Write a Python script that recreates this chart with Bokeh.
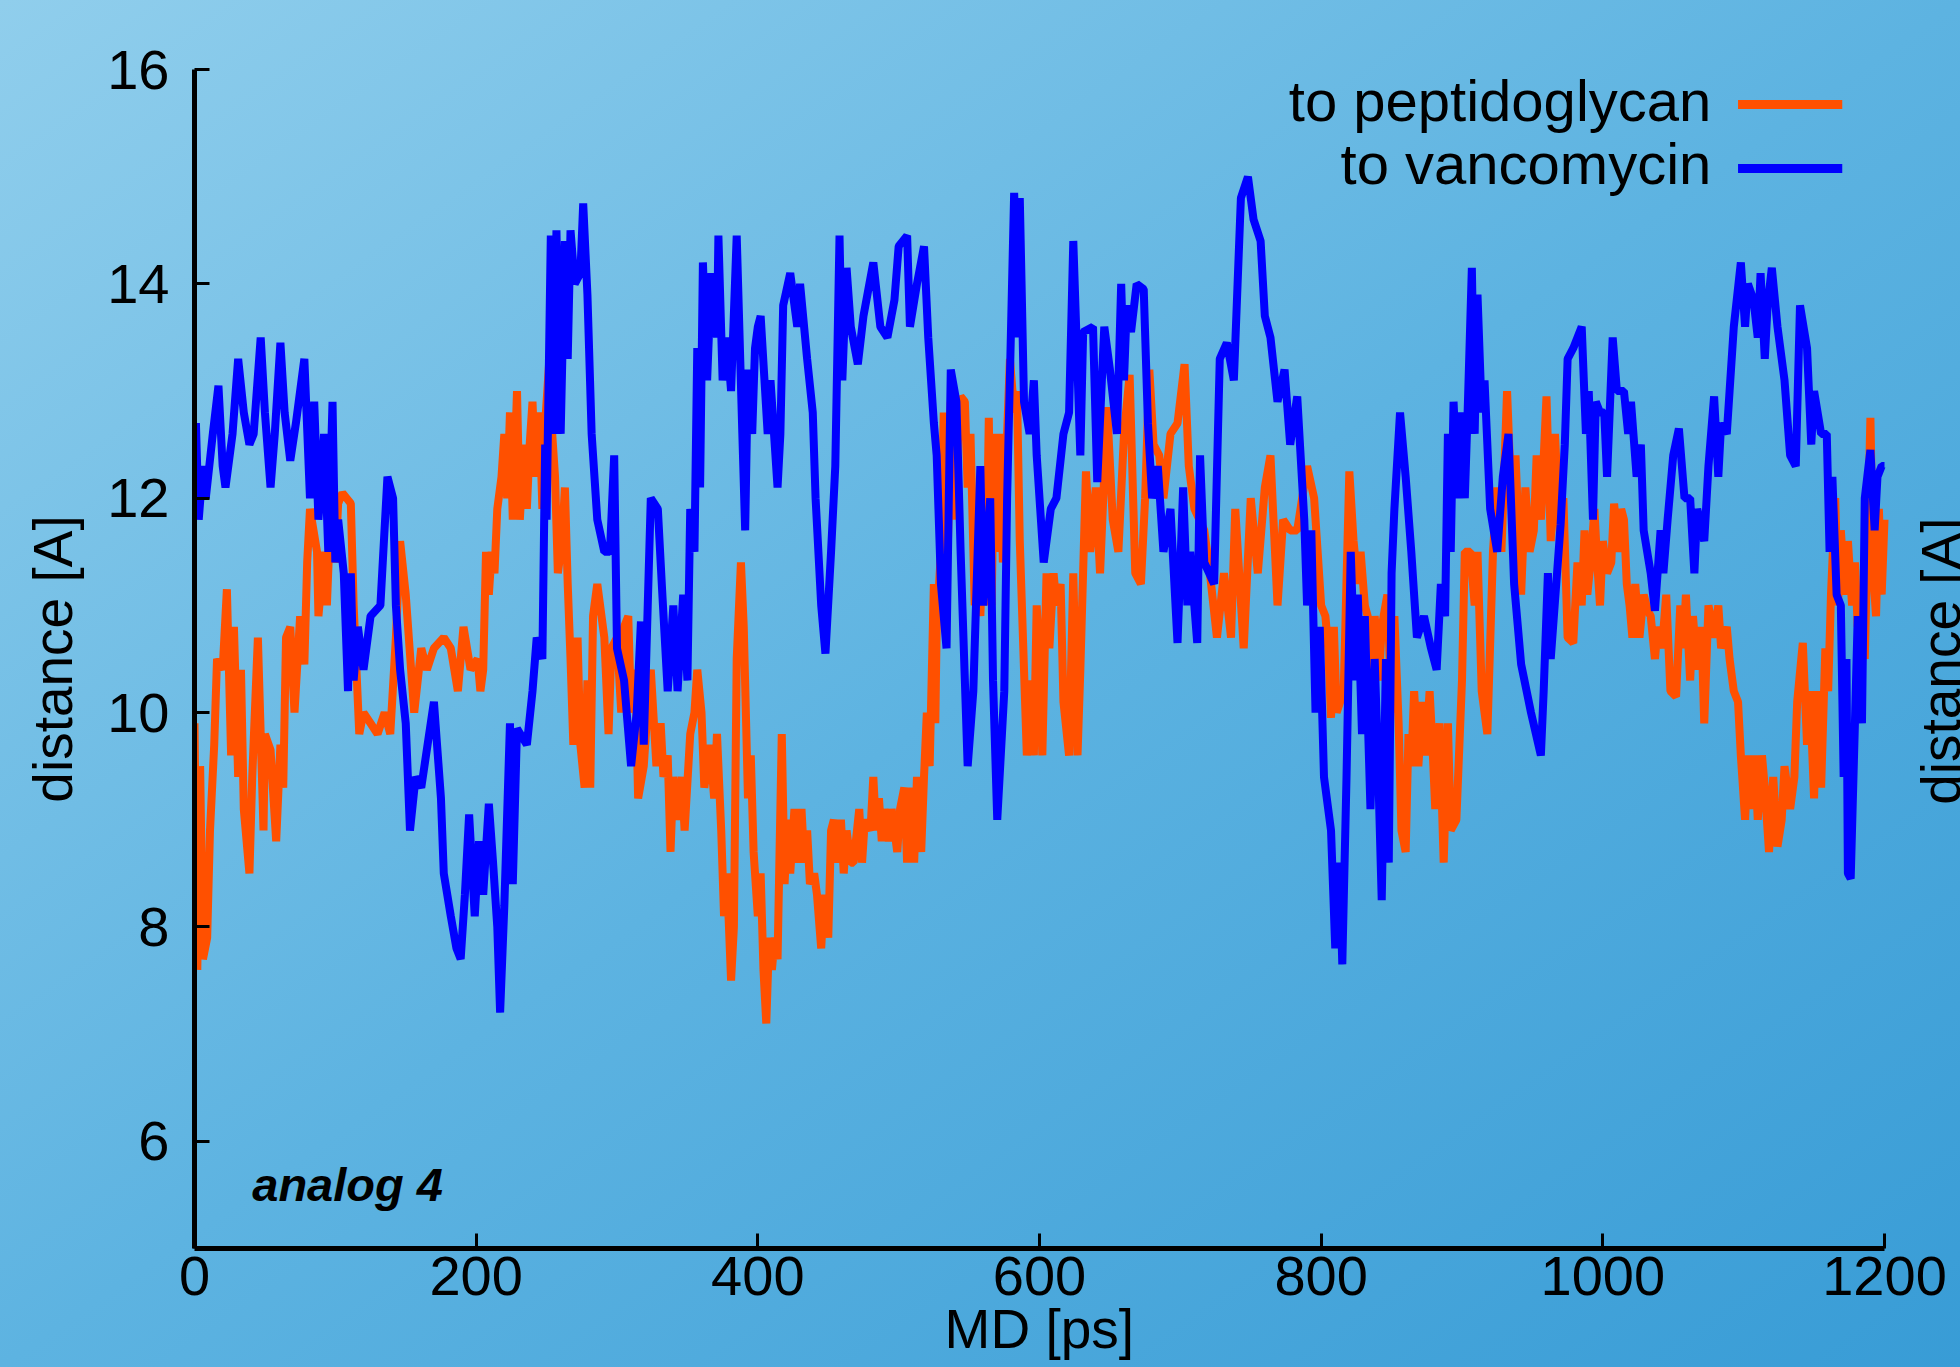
import math
from bokeh.plotting import figure
from bokeh.models import Range1d, FixedTicker, Label
from bokeh.embed import file_html
from bokeh.resources import INLINE

# ---- data: (MD time [ps], distance [A]) ----
peptidoglycan = [
    (0, 9.9), (2, 7.6), (4, 9.5), (6, 7.7), (9, 7.9), (11, 8.9), (14, 9.7), (16, 10.5), (20, 10.4),
    (23, 11.15), (26, 9.6), (28, 10.8), (31, 9.4), (33, 10.4), (35, 9.1), (39, 8.5), (41, 9.4),
    (45, 10.7), (49, 8.9), (50, 9.8), (54, 9.65), (58, 8.8), (61, 9.7), (63, 9.3), (65, 10.7),
    (68, 10.8), (71, 10.0), (75, 10.9), (78, 10.45), (80, 11.4), (82, 11.9), (87, 11.5), (88, 10.9),
    (92, 11.5), (94, 11.0), (97, 12.0), (100, 11.4), (102, 11.95), (105, 12.05), (111, 11.95),
    (113, 11.0), (117, 9.8), (120, 10.0), (125, 9.9), (130, 9.8), (135, 10.0), (139, 9.8),
    (143, 10.7), (146, 11.6), (150, 11.1), (156, 10.0), (161, 10.6), (165, 10.4), (170, 10.6),
    (177, 10.7), (182, 10.6), (187, 10.2), (191, 10.8), (196, 10.4), (201, 10.5), (203, 10.2),
    (205, 10.4), (207, 11.5), (209, 11.1), (211, 11.5), (213, 11.3), (215, 11.9), (218, 12.2),
    (220, 12.6), (222, 12.0), (224, 12.8), (226, 11.8), (229, 13.0), (231, 11.8), (234, 12.5),
    (236, 11.9), (238, 12.5), (240, 12.9), (242, 12.2), (245, 12.8), (247, 11.9), (249, 12.7),
    (252, 13.3), (254, 12.6), (256, 12.2), (258, 11.3), (261, 11.6), (263, 12.1), (265, 11.2),
    (267, 10.5), (269, 9.7), (272, 10.7), (274, 9.7), (277, 9.3), (279, 10.3), (281, 9.3),
    (283, 10.9), (286, 11.2), (291, 10.7), (294, 9.8), (296, 10.6), (300, 10.7), (303, 10.0),
    (305, 10.8), (308, 10.9), (310, 10.0), (313, 10.4), (315, 9.2), (319, 9.5), (322, 10.1),
    (324, 10.4), (328, 9.5), (331, 9.9), (333, 9.4), (336, 9.6), (338, 8.7), (340, 9.4), (343, 9.0),
    (346, 9.4), (348, 8.9), (352, 9.8), (355, 10.0), (357, 10.4), (360, 10.0), (362, 9.3),
    (366, 9.7), (369, 9.2), (371, 9.8), (374, 8.9), (376, 8.1), (378, 8.5), (381, 7.5), (383, 8.0),
    (385, 10.5), (388, 11.4), (390, 10.8), (393, 9.2), (395, 9.6), (397, 8.7), (400, 8.1),
    (402, 8.5), (404, 7.6), (406, 7.1), (408, 7.9), (410, 7.6), (412, 7.9), (414, 7.7), (417, 9.8),
    (419, 8.4), (421, 9.0), (423, 8.5), (426, 9.1), (428, 8.6), (431, 9.1), (433, 8.6), (435, 8.9),
    (437, 8.4), (440, 8.5), (442, 8.3), (445, 7.8), (447, 8.3), (450, 7.9), (452, 8.9), (454, 9.0),
    (457, 8.6), (459, 9.0), (461, 8.5), (463, 8.9), (466, 8.6), (468, 8.6), (472, 9.1), (474, 8.6),
    (476, 9.0), (480, 8.9), (482, 9.4), (484, 8.9), (486, 9.2), (488, 8.8), (490, 9.1), (493, 8.8),
    (495, 9.1), (499, 8.7), (501, 9.1), (504, 9.3), (506, 8.6), (508, 9.3), (511, 8.6), (513, 9.4),
    (516, 8.7), (518, 9.4), (520, 10.0), (522, 9.5), (525, 11.2), (526, 9.9), (527, 10.8),
    (530, 11.5), (532, 12.8), (535, 11.6), (537, 12.9), (540, 11.8), (542, 12.5), (544, 12.95),
    (547, 12.9), (549, 12.1), (551, 12.6), (554, 11.0), (556, 11.9), (558, 10.9), (560, 11.6),
    (562, 11.0), (564, 12.75), (566, 11.0), (568, 12.6), (570, 11.5), (572, 12.6), (574, 11.4),
    (577, 12.6), (579, 13.3), (582, 12.8), (584, 13.0), (586, 11.6), (589, 10.4), (591, 9.6),
    (594, 10.3), (596, 9.6), (598, 11.0), (600, 10.5), (602, 9.6), (605, 11.3), (607, 10.6),
    (610, 11.3), (612, 11.0), (615, 11.2), (617, 10.1), (621, 9.6), (624, 11.3), (627, 9.6),
    (629, 10.4), (633, 12.25), (636, 11.5), (640, 12.1), (643, 11.3), (648, 12.85), (652, 11.8),
    (656, 11.5), (660, 12.6), (664, 13.15), (668, 11.3), (672, 11.2), (675, 12.0), (678, 13.2),
    (681, 12.5), (685, 12.4), (688, 12.0), (693, 12.6), (698, 12.7), (703, 13.25), (706, 12.3),
    (710, 11.9), (717, 11.7), (721, 11.3), (726, 10.7), (731, 11.3), (736, 10.7), (739, 11.9),
    (745, 10.6), (750, 12.0), (755, 11.3), (760, 12.1), (764, 12.4), (769, 11.0), (773, 11.8),
    (778, 11.7), (783, 11.7), (790, 12.3), (795, 12.0), (800, 11.0), (803, 10.9), (805, 10.6),
    (807, 9.95), (809, 10.8), (811, 10.0), (816, 10.2), (820, 12.25), (823, 11.6), (826, 11.2),
    (828, 11.5), (831, 11.0), (833, 10.9), (836, 10.4), (838, 10.9), (841, 10.3), (843, 10.8),
    (847, 11.1), (850, 10.0), (852, 10.9), (855, 9.9), (857, 8.9), (860, 8.7), (862, 9.8),
    (864, 9.5), (866, 10.2), (869, 9.5), (872, 10.1), (874, 9.6), (877, 10.2), (879, 9.7),
    (881, 9.1), (884, 9.9), (887, 8.6), (890, 9.9), (892, 8.9), (896, 9.0), (900, 10.3),
    (902, 11.5), (906, 11.5), (909, 11.0), (911, 11.5), (914, 10.2), (918, 9.8), (922, 11.5),
    (925, 12.1), (928, 11.5), (932, 13.0), (935, 12.0), (938, 12.4), (942, 11.1), (945, 12.1),
    (948, 11.5), (951, 11.7), (953, 12.4), (956, 11.8), (960, 12.95), (963, 11.6), (966, 12.6),
    (970, 11.5), (972, 12.0), (975, 10.7), (979, 10.65), (982, 11.4), (985, 11.0), (987, 11.7),
    (989, 11.1), (992, 11.5), (994, 11.9), (996, 11.4), (998, 11.0), (1000, 11.6), (1003, 11.3),
    (1006, 11.4), (1008, 11.95), (1011, 11.5), (1013, 11.9), (1015, 11.8), (1017, 11.2),
    (1019, 11.0), (1021, 10.7), (1023, 11.2), (1026, 10.7), (1029, 11.1), (1032, 10.95),
    (1034, 10.9), (1037, 10.5), (1039, 10.8), (1042, 10.6), (1045, 11.1), (1048, 10.2),
    (1052, 10.15), (1055, 11.0), (1057, 10.6), (1059, 11.1), (1062, 10.3), (1064, 10.9),
    (1067, 10.4), (1070, 10.8), (1072, 9.9), (1075, 11.0), (1079, 10.7), (1082, 11.0),
    (1084, 10.6), (1088, 10.8), (1090, 10.5), (1093, 10.2), (1096, 10.1), (1098, 9.6), (1101, 9.0),
    (1103, 9.6), (1105, 9.1), (1108, 9.6), (1110, 9.0), (1113, 9.6), (1115, 9.3), (1118, 8.7),
    (1121, 9.4), (1124, 8.75), (1127, 9.0), (1129, 9.5), (1133, 9.1), (1136, 9.4), (1138, 10.1),
    (1142, 10.65), (1145, 9.7), (1147, 10.2), (1150, 9.2), (1152, 10.2), (1155, 9.3), (1158, 10.6),
    (1160, 10.2), (1162, 11.1), (1165, 12.0), (1167, 11.0), (1169, 11.7), (1172, 11.1),
    (1174, 11.6), (1177, 11.0), (1179, 11.4), (1181, 10.8), (1184, 11.0), (1186, 10.5),
    (1190, 12.75), (1192, 11.3), (1194, 10.9), (1196, 11.9), (1198, 11.1), (1200, 11.8),
]

vancomycin = [
    (0, 11.9), (1, 12.7), (3, 11.8), (6, 12.3), (8, 12.0), (13, 12.6), (17, 13.05), (20, 12.3),
    (22, 12.1), (27, 12.6), (31, 13.3), (35, 12.8), (39, 12.5), (42, 12.6), (47, 13.5), (50, 12.8),
    (54, 12.1), (57, 12.6), (61, 13.45), (64, 12.8), (68, 12.35), (72, 12.7), (78, 13.3),
    (82, 12.0), (85, 12.9), (88, 11.8), (92, 12.6), (95, 11.5), (98, 12.9), (100, 11.4),
    (102, 11.8), (106, 11.3), (109, 10.2), (111, 11.3), (113, 10.3), (116, 10.8), (120, 10.4),
    (125, 10.9), (132, 11.0), (137, 12.2), (141, 12.0), (143, 11.0), (146, 10.4), (150, 9.9),
    (153, 8.9), (157, 9.4), (161, 9.3), (170, 10.1), (175, 9.2), (177, 8.5), (182, 8.1),
    (186, 7.8), (189, 7.7), (192, 8.3), (195, 9.05), (199, 8.1), (202, 8.8), (205, 8.3),
    (209, 9.15), (212, 8.6), (215, 8.0), (217, 7.2), (220, 8.2), (224, 9.9), (226, 8.4),
    (229, 9.85), (236, 9.7), (240, 10.2), (243, 10.7), (247, 10.5), (249, 12.5), (250, 11.8),
    (253, 14.45), (255, 12.6), (257, 14.5), (260, 12.6), (263, 14.4), (265, 13.3), (267, 14.5),
    (270, 14.0), (274, 14.1), (276, 14.75), (279, 13.9), (282, 12.6), (286, 11.8), (291, 11.5),
    (295, 11.5), (298, 12.4), (300, 10.6), (305, 10.3), (310, 9.5), (314, 10.0), (317, 10.85),
    (319, 9.7), (324, 12.0), (329, 11.9), (332, 11.15), (336, 10.2), (340, 11.0), (343, 10.2),
    (347, 11.1), (350, 10.3), (352, 11.9), (355, 11.5), (357, 13.4), (359, 12.1), (361, 14.2),
    (364, 13.1), (367, 14.1), (371, 13.5), (372, 14.45), (375, 13.1), (378, 13.5), (381, 13.0),
    (385, 14.45), (389, 12.6), (391, 11.7), (393, 13.2), (396, 12.6), (398, 13.4), (400, 13.6),
    (402, 13.7), (407, 12.6), (409, 13.1), (414, 12.1), (416, 12.6), (418, 13.8), (423, 14.1),
    (428, 13.6), (430, 14.0), (435, 13.3), (439, 12.8), (441, 12.0), (445, 11.0), (448, 10.55),
    (452, 11.5), (455, 12.3), (458, 14.45), (460, 13.1), (463, 14.15), (466, 13.6), (471, 13.25),
    (475, 13.7), (482, 14.2), (487, 13.6), (492, 13.5), (497, 13.85), (500, 14.35), (506, 14.45),
    (508, 13.6), (513, 14.0), (518, 14.35), (521, 13.5), (525, 12.7), (527, 12.4), (530, 11.2),
    (534, 10.6), (537, 13.2), (541, 12.9), (544, 11.5), (549, 9.5), (553, 10.2), (558, 12.3),
    (560, 11.0), (565, 12.0), (567, 10.3), (570, 9.0), (575, 10.2), (577, 12.0), (582, 14.85),
    (585, 13.5), (586, 14.8), (589, 12.9), (593, 12.6), (596, 13.1), (598, 12.4), (603, 11.4),
    (608, 11.9), (612, 12.0), (617, 12.6), (621, 12.8), (624, 14.4), (629, 12.4), (631, 13.55),
    (638, 13.6), (641, 12.15), (646, 13.6), (650, 13.2), (655, 12.6), (658, 14.0), (660, 13.1),
    (662, 13.8), (665, 13.55), (669, 14.0), (674, 13.95), (677, 12.7), (680, 12.0), (684, 12.3),
    (688, 11.5), (693, 11.9), (698, 10.65), (702, 12.1), (705, 11.0), (707, 11.5), (712, 10.65),
    (714, 12.4), (717, 11.4), (724, 11.2), (728, 13.3), (733, 13.45), (738, 13.1), (743, 14.8),
    (748, 15.0), (752, 14.6), (757, 14.4), (760, 13.7), (764, 13.5), (769, 12.9), (774, 13.2),
    (778, 12.5), (783, 12.95), (788, 11.8), (790, 11.0), (793, 11.7), (796, 10.0), (799, 10.8),
    (802, 9.4), (807, 8.9), (810, 7.8), (813, 8.6), (815, 7.65), (818, 9.4), (821, 11.5),
    (824, 10.3), (826, 11.1), (829, 9.8), (831, 10.9), (835, 9.1), (838, 10.5), (840, 9.7),
    (843, 8.25), (846, 10.5), (848, 8.6), (850, 11.3), (852, 11.9), (856, 12.8), (860, 12.2),
    (864, 11.5), (868, 10.7), (873, 10.9), (878, 10.6), (882, 10.4), (885, 11.2), (888, 10.9),
    (890, 12.6), (892, 11.5), (894, 12.9), (897, 12.0), (899, 12.8), (902, 12.0), (904, 12.8),
    (907, 14.15), (909, 12.6), (911, 13.9), (914, 12.8), (916, 13.1), (920, 11.9), (925, 11.5),
    (929, 12.2), (933, 12.6), (937, 11.2), (942, 10.45), (949, 10.0), (956, 9.6), (958, 10.2),
    (961, 11.3), (963, 10.5), (970, 11.75), (973, 12.5), (975, 13.3), (979, 13.4), (985, 13.6),
    (988, 12.6), (990, 13.0), (993, 11.8), (995, 12.9), (998, 12.8), (1001, 12.8), (1003, 12.2),
    (1007, 13.5), (1010, 13.0), (1015, 13.0), (1018, 12.6), (1020, 12.9), (1024, 12.2),
    (1027, 12.5), (1029, 11.7), (1034, 11.3), (1037, 10.95), (1041, 11.7), (1043, 11.3),
    (1046, 11.8), (1050, 12.4), (1054, 12.65), (1058, 12.0), (1062, 12.0), (1065, 11.3),
    (1067, 11.9), (1072, 11.6), (1075, 12.3), (1079, 12.95), (1082, 12.2), (1084, 12.7),
    (1088, 12.6), (1090, 13.0), (1093, 13.6), (1098, 14.2), (1101, 13.6), (1103, 14.0),
    (1107, 13.85), (1110, 13.5), (1112, 14.1), (1115, 13.3), (1117, 13.8), (1120, 14.15),
    (1124, 13.6), (1129, 13.1), (1133, 12.4), (1137, 12.3), (1140, 13.8), (1145, 13.4),
    (1148, 12.5), (1150, 13.0), (1155, 12.6), (1159, 12.6), (1161, 11.5), (1163, 12.2),
    (1166, 11.1), (1169, 11.0), (1171, 9.4), (1173, 10.5), (1174, 8.5), (1176, 8.45), (1179, 9.9),
    (1181, 10.9), (1184, 9.9), (1186, 12.0), (1190, 12.45), (1193, 11.7), (1195, 12.2),
    (1198, 12.3), (1200, 12.3),
]

pep_time = [t for t, _ in peptidoglycan]
pep_dist = [d for _, d in peptidoglycan]
van_time = [t for t, _ in vancomycin]
van_dist = [d for _, d in vancomycin]

x_ticks = [0, 200, 400, 600, 800, 1000, 1200]
y_ticks = [6, 8, 10, 12, 14, 16]
series_labels = ["to peptidoglycan", "to vancomycin"]
series_colors = ["#ff5000", "#0000ff"]

FONT = "Liberation Sans"

# the frame runs to the right page edge; the x axis itself stops at 1200 ps
X_VIEW_END = 1200 * (1960 - 194) / 1690

p = figure(width=1960, height=1367,
           x_range=Range1d(0, X_VIEW_END), y_range=Range1d(5, 16),
           output_backend="svg", toolbar_location=None,
           min_border_left=194, min_border_right=0,
           min_border_top=69, min_border_bottom=119)
p.background_fill_color = None
p.border_fill_color = None
p.outline_line_color = None
p.styles = {"background-image": "linear-gradient(to bottom right, #90ceec 0%, #5db3e1 50%, #389cd6 100%)"}
p.grid.visible = False

for ax in (p.xaxis[0], p.yaxis[0]):
    ax.axis_line_color = "black"
    ax.axis_line_width = 5
    ax.major_tick_in = 15
    ax.major_tick_out = 0
    ax.major_tick_line_width = 3
    ax.major_tick_line_color = "black"
    ax.minor_tick_line_color = None
    ax.major_label_text_font = FONT
    ax.major_label_text_font_size = "56px"
    ax.major_label_text_color = "black"
    ax.axis_label_text_font = FONT
    ax.axis_label_text_font_size = "55px"
    ax.axis_label_text_font_style = "normal"
    ax.axis_label_text_color = "black"

p.xaxis[0].ticker = FixedTicker(ticks=x_ticks)
p.xaxis[0].bounds = (0, 1200)
p.yaxis[0].ticker = FixedTicker(ticks=y_ticks)
# trailing no-break spaces keep the title centred under the 0-1200 span of the axis
p.xaxis[0].axis_label = "MD [ps]" + "\u00a0" * 5
p.yaxis[0].axis_label = "distance [A]"
p.xaxis[0].major_label_standoff = 8
p.xaxis[0].axis_label_standoff = 0
p.yaxis[0].major_label_standoff = 25
p.yaxis[0].axis_label_standoff = 20

p.line(pep_time, pep_dist, line_color=series_colors[0], line_width=8)
p.line(van_time, van_dist, line_color=series_colors[1], line_width=8)

# legend (text left of sample line)
legend_text_x = 1077
legend_line_x = (1096, 1170)
legend_rows = [(15.71, 15.674), (15.12, 15.077)]
for lab, col, (ty, ly) in zip(series_labels, series_colors, legend_rows):
    p.add_layout(Label(x=legend_text_x, y=ty, text=lab, text_align="right",
                       text_baseline="alphabetic", text_font=FONT,
                       text_font_size="58px", text_color="black"))
    p.segment(x0=[legend_line_x[0]], y0=[ly], x1=[legend_line_x[1]], y1=[ly],
              line_color=col, line_width=9, line_cap="butt")

p.add_layout(Label(x=41, y=5.6, text="analog 4", text_align="left",
                   text_baseline="alphabetic", text_font=FONT,
                   text_font_size="47px", text_font_style="bold italic",
                   text_color="black"))

# right-hand axis title at the page edge, as in the original
p.add_layout(Label(x=1218, y=10.48, text="distance [A]", angle=math.pi / 2,
                   text_align="center", text_baseline="top", text_font=FONT,
                   text_font_size="55px", text_color="black"))

open("out.html", "w").write(file_html(p, INLINE))
